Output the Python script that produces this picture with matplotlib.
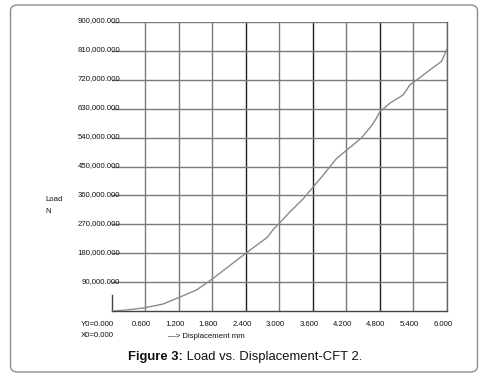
import matplotlib
matplotlib.use("Agg")
import matplotlib.pyplot as plt
from matplotlib.patches import FancyBboxPatch
from matplotlib.transforms import ScaledTranslation

plt.rcParams['font.family'] = ['Liberation Sans', 'DejaVu Sans']

# Data
disp = [0.0, 0.26, 0.6, 0.92, 1.2, 1.52, 1.8, 2.1, 2.4, 2.78, 2.9, 3.0, 3.18,
        3.42, 3.6, 3.78, 4.02, 4.2, 4.46, 4.64, 4.74, 4.8, 4.98, 5.22, 5.34,
        5.52, 5.7, 5.91, 6.0]
load = [0, 3000, 10400, 22000, 42000, 66000, 100000, 140000, 180000, 229000,
        256000, 273000, 307000, 348000, 385000, 422000, 474000, 500000, 537000,
        574000, 600000, 620000, 647000, 673000, 704000, 727000, 751000, 778000,
        814000]
x_ticks = [0.6, 1.2, 1.8, 2.4, 3.0, 3.6, 4.2, 4.8, 5.4, 6.0]
x_labels = ["0.600", "1.200", "1.800", "2.400", "3.000", "3.600", "4.200",
            "4.800", "5.400", "6.000"]
dark_x = [2.4, 3.6, 4.8]
y_ticks = [90000, 180000, 270000, 360000, 450000, 540000, 630000, 720000,
           810000, 900000]
y_labels = ["90,000.000", "180,000.000", "270,000.000", "360,000.000",
            "450,000.000", "540,000.000", "630,000.000", "720,000.000",
            "810,000.000", "900,000.000"]

W, H = 498, 388
fig = plt.figure(figsize=(W / 100, H / 100), dpi=100)

# outer rounded frame
frame = FancyBboxPatch((10.5 / W, 1 - 372 / H), (477.5 - 10.5) / W, (372 - 5) / H,
                       boxstyle="round,pad=0,rounding_size=0.015",
                       transform=fig.transFigure, facecolor='white',
                       edgecolor='#8c8c8c', linewidth=1.0, zorder=-5)
fig.patches.append(frame)

left, right, top, bottom = 112, 446.7, 22, 311
ax = fig.add_axes([left / W, 1 - bottom / H, (right - left) / W, (bottom - top) / H])
ax.set_zorder(2)
ax.set_facecolor('none')
ax.set_xlim(0, 6.0)
ax.set_ylim(0, 900000)

for s in ['left', 'top']:
    ax.spines[s].set_visible(False)
ax.spines['bottom'].set_color('#444444')
ax.spines['right'].set_color('#666666')
ax.spines['bottom'].set_linewidth(1.0)
ax.spines['right'].set_linewidth(1.0)

# grid
for xv in x_ticks:
    c = '#222222' if xv in dark_x else '#7a7a7a'
    ax.axvline(xv, color=c, lw=1.0, zorder=1)
for yv in y_ticks:
    ax.axhline(yv, color='#7a7a7a', lw=1.0, zorder=1)
# short left axis stub
ax.plot([0, 0], [0, 50000], color='#444444', lw=1.0, zorder=2, clip_on=False)

ax.plot(disp, load, color='#8a8a8a', lw=1.0, zorder=3)

ax.set_xticks(x_ticks)
ax.set_xticklabels(x_labels)
ax.set_yticks(y_ticks)
ax.set_yticklabels(y_labels)
ax.tick_params(axis='both', length=0, labelsize=5.6, colors='#111111')
ax.tick_params(axis='x', pad=7)
ax.tick_params(axis='y', pad=-6)
off = ScaledTranslation(-4 / 100, 0, fig.dpi_scale_trans)
for lab in ax.get_xticklabels():
    lab.set_transform(lab.get_transform() + off)
offy = ScaledTranslation(0, 2 / 100, fig.dpi_scale_trans)
for lab in ax.get_yticklabels():
    lab.set_transform(lab.get_transform() + offy)

def ftext(x, y, s, **kw):
    fig.text(x / W, 1 - y / H, s, **kw)

ftext(81, 324, "Y0=0.000", fontsize=5.6, va='center', ha='left', color='#111111')
ftext(81, 335.5, "X0=0.000", fontsize=5.6, va='center', ha='left', color='#111111')
ftext(168, 336, "\u2014> Displacement mm", fontsize=5.6, va='center', ha='left', color='#111111')
ftext(45, 200, "Load", fontsize=5.6, va='center', ha='left', color='#111111')
ftext(45, 211.5, "N", fontsize=5.6, va='center', ha='left', color='#111111')

# caption
cap_bold = "Figure 3:"
cap_rest = " Load vs. Displacement-CFT 2."
t1 = fig.text(128 / W, 1 - 357 / H, cap_bold, fontsize=9.4, fontweight='bold',
              va='center', ha='left', color='#111111')
fig.canvas.draw()
bb = t1.get_window_extent()
fig.text(bb.x1 / W, 1 - 357 / H, cap_rest, fontsize=9.4, va='center', ha='left',
         color='#111111')

fig.savefig("out.png", dpi=100)
